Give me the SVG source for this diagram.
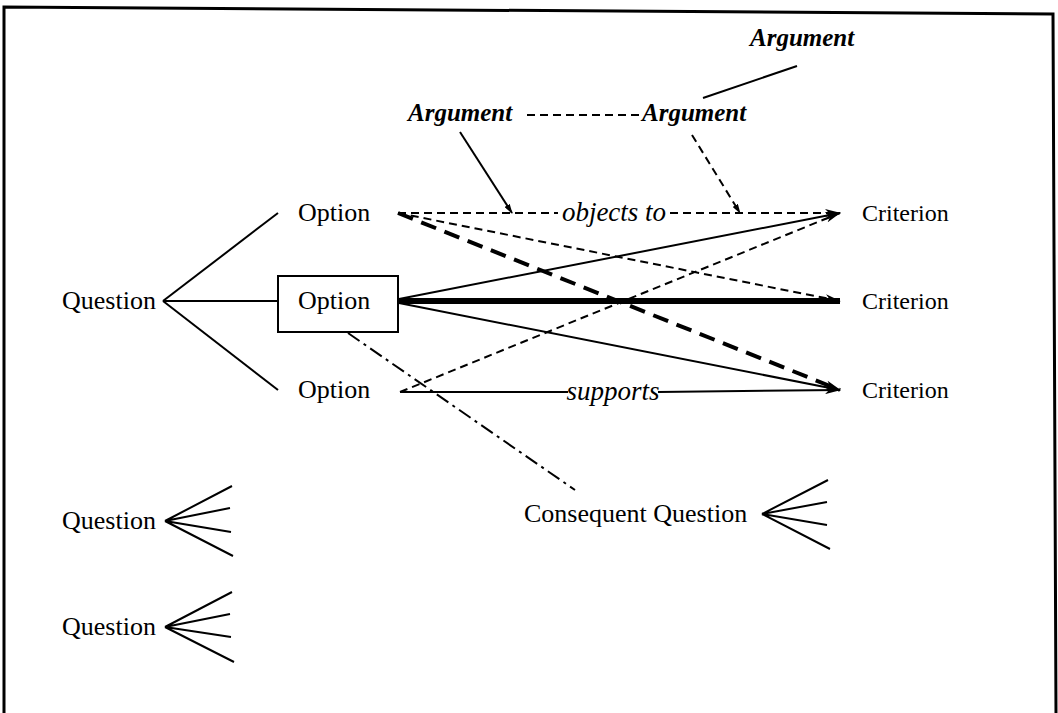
<svg xmlns="http://www.w3.org/2000/svg" width="1058" height="713" viewBox="0 0 1058 713">
<defs>
<marker id="ah" viewBox="0 0 16 8" refX="15" refY="4" markerWidth="16" markerHeight="8" markerUnits="userSpaceOnUse" orient="auto">
<path d="M0,0 L16,4 L0,8 L4,4 z" fill="#000"/>
</marker>
<marker id="ahs" viewBox="0 0 10 6" refX="9" refY="3" markerWidth="10" markerHeight="6" markerUnits="userSpaceOnUse" orient="auto">
<path d="M0,0 L10,3 L0,6 z" fill="#000"/>
</marker>
</defs>
<style>
.t{font-family:"Liberation Serif","Times New Roman",serif;font-size:26px;fill:#000}
.c{font-family:"Liberation Serif","Times New Roman",serif;font-size:24px;fill:#000}
.a{font-family:"Liberation Serif","Times New Roman",serif;font-size:25px;font-style:italic;font-weight:bold;fill:#000}
.l{font-family:"Liberation Serif","Times New Roman",serif;font-size:27px;font-style:italic;fill:#000}
.s{stroke:#000;stroke-width:2;fill:none}
.d{stroke:#000;stroke-width:2;fill:none;stroke-dasharray:8 5}
.dt{stroke:#000;stroke-width:4;fill:none;stroke-dasharray:16 9}
.th{stroke:#000;stroke-width:6;fill:none}
.dd{stroke:#000;stroke-width:2;fill:none;stroke-dasharray:14 5 3 5}
</style>
<rect width="1058" height="713" fill="#fff"/>
<path d="M4,713 L4,7 L1053,14 L1056,713" fill="none" stroke="#000" stroke-width="3"/>

<g id="connectors">
<path class="s" d="M163,301 L278,213"/>
<path class="s" d="M163,301 L278,301"/>
<path class="s" d="M163,301 L278,390"/>
<path class="s" d="M797,66 L703,98"/>
<path class="d" d="M527,115 L640,115"/>
<path class="s" d="M460,132 L512,213" marker-end="url(#ahs)"/>
<path class="d" d="M692,135 L740,213" marker-end="url(#ahs)"/>
<path class="d" d="M398,213 L558,213"/>
<path class="d" d="M670,213 L840,213" marker-end="url(#ah)"/>
<path class="d" d="M398,213 L840,301" marker-end="url(#ah)"/>
<path class="dt" d="M398,213 L840,390" marker-end="url(#ah)"/>
<path class="s" d="M399,299 L840,213" marker-end="url(#ah)"/>
<path class="th" d="M399,301 L840,301"/>
<path class="s" d="M399,303 L840,390" marker-end="url(#ah)"/>
<path class="d" d="M400,392 L840,213" marker-end="url(#ah)"/>
<path class="s" d="M400,392 L568,392"/>
<path class="s" d="M658,392 L840,390" marker-end="url(#ah)"/>
<path class="dd" d="M348,333 L575,490"/>
<path class="s" d="M762,514 L828,480 M762,514 L827,502 M762,514 L827,525 M762,514 L830,549"/>
<path class="s" d="M165,521 L232,486 M165,521 L230,508 M165,521 L231,532 M165,521 L233,556"/>
<path class="s" d="M165,627 L232,592 M165,627 L230,614 M165,627 L231,637 M165,627 L234,662"/>
</g>

<g id="labels">
<text class="l" x="614" y="221" text-anchor="middle">objects to</text>
<text class="l" x="613" y="400" text-anchor="middle">supports</text>
</g>

<g id="arg-top"><text class="a" x="750" y="46">Argument</text></g>
<g id="arg-left"><text class="a" x="408" y="121">Argument</text></g>
<g id="arg-mid"><text class="a" x="642" y="121">Argument</text></g>

<g id="question"><text class="t" x="62" y="309">Question</text></g>
<g id="option1"><text class="t" x="298" y="221">Option</text></g>
<g id="option2"><rect x="278" y="276" width="120" height="56" fill="#fff" stroke="#000" stroke-width="2"/><text class="t" x="298" y="309">Option</text></g>
<g id="option3"><text class="t" x="298" y="398">Option</text></g>
<g id="criterion1"><text class="c" x="862" y="221">Criterion</text></g>
<g id="criterion2"><text class="c" x="862" y="309">Criterion</text></g>
<g id="criterion3"><text class="c" x="862" y="398">Criterion</text></g>
<g id="consequent"><text class="t" x="524" y="522">Consequent Question</text></g>
<g id="question2"><text class="t" x="62" y="529">Question</text></g>
<g id="question3"><text class="t" x="62" y="635">Question</text></g>
</svg>
